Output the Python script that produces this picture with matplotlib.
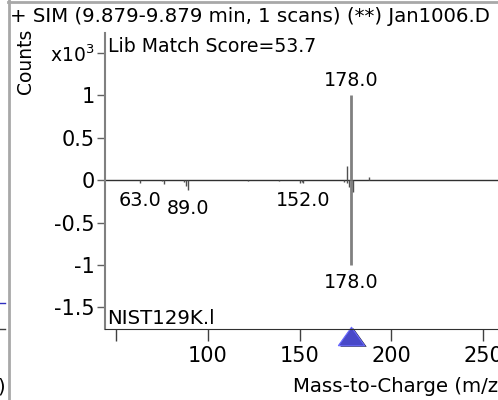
"""Library match view: SIM spectrum (top) vs NIST library spectrum (mirrored)."""

import matplotlib

matplotlib.use("Agg")
import matplotlib.pyplot as plt
from matplotlib.lines import Line2D
from matplotlib.transforms import blended_transform_factory

# measured spectrum (SIM ions), counts x10^3
sample_mz = [176.0, 178.0, 188.0]
sample_counts = [0.17, 1.0, 0.04]

# NIST library spectrum, drawn downwards, scaled to the base peak
lib_mz = [63, 75, 76, 87, 88, 89, 122, 139, 150, 151, 152, 174, 176, 177, 178, 179]
lib_counts = [-0.03, -0.01, -0.05, -0.02, -0.07, -0.12, -0.01, -0.01,
              -0.03, -0.02, -0.03, -0.02, -0.03, -0.08, -1.0, -0.14]

sample_labels = [178.0]
lib_labels = [63.0, 89.0, 152.0, 178.0]
precursor_mz = 178.0

x_ticks = [50, 100, 150, 200, 250]
x_ticklabels = ["", "100", "150", "200", "250"]
y_ticks = [-1.5, -1, -0.5, 0, 0.5, 1, 1.5]
y_ticklabels = ["-1.5", "-1", "-0.5", "0", "0.5", "1", r"x10$^{3}$"]

title = "+ SIM (9.879-9.879 min, 1 scans) (**) Jan1006.D"
score_text = "Lib Match Score=53.7"
lib_name = "NIST129K.l"

plt.rcParams["font.family"] = ["DejaVu Sans"]
plt.rcParams["mathtext.fontset"] = "dejavusans"

W, H = 498, 400
fig = plt.figure(figsize=(W / 100, H / 100), dpi=100)
ax = fig.add_axes([105 / W, 1 - 329 / H, 1 - 105 / W, (329 - 33) / H])
ax.set_xlim(44, 258)
ax.set_ylim(-1.755, 1.735)

ax.axhline(0, color="#303030", lw=1)
for mz, c in zip(sample_mz, sample_counts):
    ax.vlines(mz, 0, c, color="#808080" if c > 0.5 else "#505050",
              lw=2 if c > 0.5 else 1)
for mz, c in zip(lib_mz, lib_counts):
    ax.vlines(mz, 0, c, color="#808080" if c < -0.5 else "#505050",
              lw=2 if c < -0.5 else 1)

for mz in sample_labels:
    c = sample_counts[sample_mz.index(mz)]
    ax.annotate(f"{mz:.1f}", (mz, c), xytext=(0, 15), textcoords="offset pixels",
                ha="center", va="center", fontsize=13.8)
for mz in lib_labels:
    c = lib_counts[lib_mz.index(mz)]
    ax.annotate(f"{mz:.1f}", (mz, c), xytext=(0, -18), textcoords="offset pixels",
                ha="center", va="center", fontsize=13.8)

# precursor marker under the axis
trans = blended_transform_factory(ax.transData, ax.transAxes)
tri = [(-1, -0.7), (1, -0.7), (0, 0.7), (-1, -0.7)]
ax.plot([precursor_mz + 1.2], [-0.027], marker=tri, ms=19, color="#202040",
        mec="none", transform=trans, clip_on=False)
ax.plot([precursor_mz], [-0.025], marker=tri, ms=19, color="#4848c8",
        mec="#6a6aff", mew=0.8, transform=trans, clip_on=False)

for s in ["top", "right"]:
    ax.spines[s].set_visible(False)
ax.spines["left"].set_color("#808080")
ax.spines["left"].set_linewidth(1.5)
ax.spines["bottom"].set_color("#303030")

ax.set_xticks(x_ticks, x_ticklabels)
ax.set_yticks(y_ticks, y_ticklabels)
ax.tick_params(axis="x", length=8.6, width=1, color="#404040", pad=4, labelsize=15)
ax.tick_params(axis="y", length=5.8, width=1, color="#606060", pad=1.5, labelsize=15)
# the x10^3 label is a bit smaller than the numbers
ax.get_yticklabels()[-1].set_fontsize(13.5)

fig.text(10 / W, 1 - 17 / H, title, ha="left", va="center", fontsize=14.2)
fig.text(108 / W, 1 - 46 / H, score_text, ha="left", va="center", fontsize=13.6)
fig.text(107 / W, 1 - 319 / H, lib_name, ha="left", va="center", fontsize=14.2)
fig.text(25 / W, 1 - 61 / H, "Counts", ha="center", va="center", rotation=90,
         fontsize=13.5)
fig.text(293 / W, 1 - 387 / H, "Mass-to-Charge (m/z)", ha="left", va="center",
         fontsize=14.2)

# window frame pieces around the panel
fig.add_artist(Line2D([8 / W, 1], [1 - 2 / H, 1 - 2 / H], color="#a8a8a8", lw=2))
fig.add_artist(Line2D([8.5 / W, 8.5 / W], [0, 1], color="#a8a8a8", lw=2))
fig.add_artist(Line2D([0, 5 / W], [1 - 303 / H, 1 - 303 / H], color="#3030c0", lw=1))
fig.add_artist(Line2D([0, 5 / W], [1 - 329 / H, 1 - 329 / H], color="#404040", lw=1))
fig.text(-3 / W, 1 - 387 / H, ")", ha="left", va="center", fontsize=14)

fig.savefig("out.png", dpi=100)
